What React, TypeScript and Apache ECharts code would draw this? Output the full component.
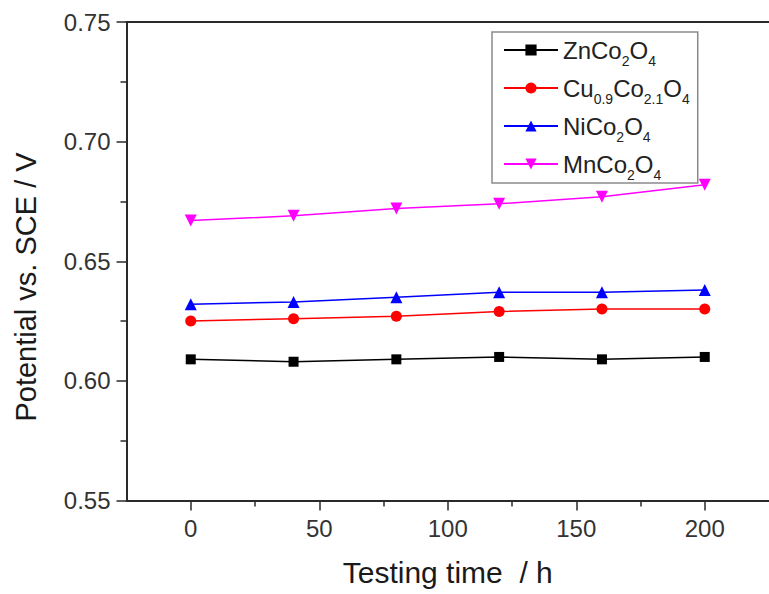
import React, { useEffect, useRef } from "react";
import * as echarts from "echarts";

const timeHours = [0, 40, 80, 120, 160, 200];
const znCo2O4 = [0.609, 0.608, 0.609, 0.61, 0.609, 0.61];
const cuCoO4 = [0.625, 0.626, 0.627, 0.629, 0.63, 0.63];
const niCo2O4 = [0.632, 0.633, 0.635, 0.637, 0.637, 0.638];
const mnCo2O4 = [0.667, 0.669, 0.672, 0.674, 0.677, 0.682];

const xMajorTicks = [0, 50, 100, 150, 200];
const xMinorTicks = [25, 75, 125, 175];

const seriesNames = ["ZnCo2O4", "Cu0.9Co2.1O4", "NiCo2O4", "MnCo2O4"];
const legendLabels: Record<string, string> = {
  ZnCo2O4: "{m|ZnCo}{s|2}{m|O}{s|4}",
  "Cu0.9Co2.1O4": "{m|Cu}{s|0.9}{m|Co}{s|2.1}{m|O}{s|4}",
  NiCo2O4: "{m|NiCo}{s|2}{m|O}{s|4}",
  MnCo2O4: "{m|MnCo}{s|2}{m|O}{s|4}",
};
const yTitle = "Potential vs. SCE / V";
const xTitle = "Testing time  / h";

const FONT = 'Arial, "Liberation Sans", sans-serif';

export default function App() {
  const ref = useRef<HTMLDivElement>(null);
  useEffect(() => {
    if (!ref.current) return;
    const chart = echarts.init(ref.current, null, { renderer: "svg" });
    const mk = (arr: number[]) => timeHours.map((t, i) => [t, arr[i]]);
    const axisColor = "#2a2a2a";
    chart.setOption({
      animation: false,
      backgroundColor: "#ffffff",
      grid: { left: 126.5, top: 22, width: 652, height: 478.5 },
      graphic: [
        {
          type: "text",
          x: 26,
          y: 287,
          rotation: Math.PI / 2,
          style: {
            text: yTitle,
            font: `29px ${FONT}`,
            fill: "#1a1a1a",
            textAlign: "center",
            textVerticalAlign: "middle",
          },
        },
      ],
      legend: {
        left: 492,
        top: 32,
        orient: "vertical",
        selectedMode: false,
        borderColor: "#8a8a8a",
        borderWidth: 1.5,
        padding: [0, 8, 1, 11],
        itemGap: 2,
        itemWidth: 54,
        itemHeight: 14,
        data: seriesNames,
        formatter: (name: string) => legendLabels[name],
        textStyle: {
          fontFamily: FONT,
          color: "#222",
          rich: {
            m: { fontSize: 24, lineHeight: 24, fontFamily: FONT, color: "#222", verticalAlign: "middle" },
            s: {
              fontSize: 14,
              lineHeight: 14,
              fontFamily: FONT,
              color: "#222",
              padding: [22, 0, 0, 0],
              verticalAlign: "middle",
            },
          },
        },
      },
      xAxis: [
        {
          type: "value",
          min: -25,
          max: 225,
          interval: 25,
          position: "bottom",
          name: xTitle,
          nameLocation: "middle",
          nameGap: 57,
          nameTextStyle: { fontFamily: FONT, fontSize: 30, color: "#1a1a1a" },
          axisLine: { show: true, onZero: false, lineStyle: { color: axisColor, width: 2 } },
          axisTick: {
            show: true,
            inside: false,
            length: 10,
            customValues: xMajorTicks,
            lineStyle: { color: axisColor, width: 1.5 },
          },
          axisLabel: {
            fontFamily: FONT,
            fontSize: 24,
            color: "#333",
            margin: 16,
            customValues: xMajorTicks,
          },
          splitLine: { show: false },
        },
        {
          type: "value",
          min: -25,
          max: 225,
          interval: 25,
          position: "bottom",
          axisLine: { show: false, onZero: false },
          axisTick: {
            show: true,
            inside: false,
            length: 6,
            customValues: xMinorTicks,
            lineStyle: { color: axisColor, width: 1.5 },
          },
          axisLabel: { show: false },
          splitLine: { show: false },
        },
        {
          type: "value",
          min: -25,
          max: 225,
          position: "top",
          axisLine: { show: true, onZero: false, lineStyle: { color: axisColor, width: 2 } },
          axisTick: { show: false },
          axisLabel: { show: false },
          splitLine: { show: false },
        },
      ],
      yAxis: {
        type: "value",
        min: 0.55,
        max: 0.75,
        interval: 0.05,
        axisLine: { show: true, onZero: false, lineStyle: { color: axisColor, width: 2 } },
        axisTick: { show: true, inside: false, length: 10, lineStyle: { color: axisColor, width: 1.5 } },
        minorTick: { show: true, splitNumber: 2, length: 6, lineStyle: { color: axisColor, width: 1.5 } },
        axisLabel: {
          fontFamily: FONT,
          fontSize: 24,
          color: "#333",
          margin: 16,
          formatter: (v: number) => v.toFixed(2),
        },
        splitLine: { show: false },
      },
      series: [
        {
          name: seriesNames[0],
          type: "line",
          data: mk(znCo2O4),
          symbol: "rect",
          symbolSize: 10,
          color: "#000000",
          lineStyle: { width: 1.5, color: "#000000" },
          itemStyle: { color: "#000000" },
        },
        {
          name: seriesNames[1],
          type: "line",
          data: mk(cuCoO4),
          symbol: "circle",
          symbolSize: 11,
          color: "#ff0000",
          lineStyle: { width: 1.5, color: "#ff0000" },
          itemStyle: { color: "#ff0000" },
        },
        {
          name: seriesNames[2],
          type: "line",
          data: mk(niCo2O4),
          symbol: "triangle",
          symbolSize: 12,
          color: "#0000ff",
          lineStyle: { width: 1.5, color: "#0000ff" },
          itemStyle: { color: "#0000ff" },
        },
        {
          name: seriesNames[3],
          type: "line",
          data: mk(mnCo2O4),
          symbol: "triangle",
          symbolRotate: 180,
          symbolSize: 12,
          color: "#ff00ff",
          lineStyle: { width: 1.5, color: "#ff00ff" },
          itemStyle: { color: "#ff00ff" },
        },
      ],
    });
    return () => chart.dispose();
  }, []);
  return (
    <div
      ref={ref}
      style={{ position: "fixed", left: 0, top: 0, width: 769, height: 594, background: "#fff" }}
    />
  );
}
